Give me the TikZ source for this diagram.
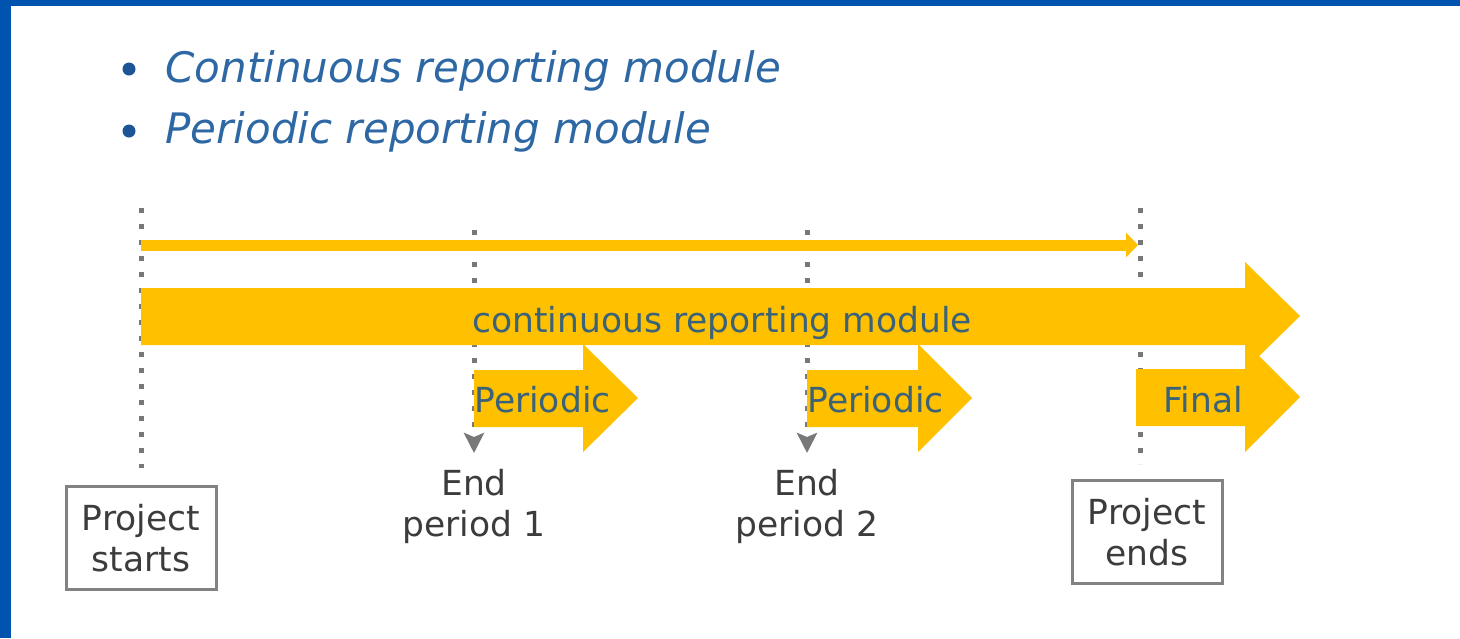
\documentclass[tikz,border=0pt]{standalone}
\usepackage{fontspec}
\setmainfont{DejaVu Sans}
\usetikzlibrary{arrows.meta}

\begin{document}
\begin{tikzpicture}[x=0.5pt,y=-0.5pt,
	big text/.style={font=\fontsize{17.25}{20.5}\selectfont},
	title text/.style={font=\fontsize{21}{25}\selectfont\itshape,text=titleblue,inner sep=0pt},
	label text/.style={big text,text=labelgray,align=center,inner sep=0pt},
	arrow text/.style={big text,text=arrowtext,inner sep=0pt},
	box node/.style={label text,draw=boxgray,line width=1.5pt,minimum width=75pt,minimum height=51.5pt},
	time line/.style={draw=dotgray,line width=2.5pt,dash pattern=on 2.5pt off 5.5pt},
	end tip/.style={-{Stealth[length=10pt,width=10pt,inset=2pt]}},
	thin arrow/.style={draw=arrowyellow,line width=5.5pt,-{Triangle[length=6pt,width=12pt]}},
	block/.style={fill=arrowyellow},
	bullet dot/.style={circle,fill=bulletblue,inner sep=0pt,minimum size=6.5pt}]
	
	\definecolor{frameblue}{RGB}{0,84,176}
	\definecolor{titleblue}{RGB}{46,104,164}
	\definecolor{bulletblue}{RGB}{28,84,150}
	\definecolor{arrowyellow}{RGB}{255,192,0}
	\definecolor{arrowtext}{RGB}{58,98,120}
	\definecolor{labelgray}{RGB}{60,60,60}
	\definecolor{dotgray}{RGB}{120,120,120}
	\definecolor{boxgray}{RGB}{130,130,130}
	
	\useasboundingbox (0,0) rectangle (1460,638);
	\fill[white] (0,0) rectangle (1460,638);
	\fill[frameblue] (0,0) rectangle (1460,6);
	\fill[frameblue] (0,0) rectangle (11,638);
	
	% the two modules
	\node[bullet dot] (b1) at (129,69) {};
	\node[bullet dot] (b2) at (129,131) {};
	\node[title text, anchor=base west] (m1) at (165,82) {Continuous reporting module};
	\node[title text, anchor=base west] (m2) at (165,143) {Periodic reporting module};
	
	% milestones
	\coordinate (t0) at (141,208);
	\coordinate (t1) at (474,230);
	\coordinate (t2) at (807,230);
	\coordinate (t3) at (1140,208);
	\node[box node] (pstart) at (141,538) {Project\\starts};
	\node[label text, anchor=north] (end1) at (474,469) {End\\period 1};
	\node[label text, anchor=north] (end2) at (807,469) {End\\period 2};
	\node[box node] (pend) at (1147,532) {Project\\ends};
	
	\draw[time line, shorten >=8.5pt] (t0) -- (t0 |- pstart.north);
	\draw[time line, end tip, shorten >=8pt] (t1) -- (end1);
	\draw[time line, end tip, shorten >=8pt] (t2) -- (end2);
	\draw[time line, shorten >=7.5pt] (t3) -- (t3 |- pend.north);
	
	% reporting arrows
	\coordinate (a0) at (141,245);
	\coordinate (a3) at (1138,245);
	\draw[thin arrow] (a0) -- (a3);
	
	\fill[block] (141,288) -- (1245,288) -- (1245,262) -- (1300,316) -- (1245,370) -- (1245,345) -- (141,345) -- cycle;
	\fill[block] (474,370) -- (583,370) -- (583,344) -- (638,398) -- (583,452) -- (583,427) -- (474,427) -- cycle;
	\fill[block] (807,370) -- (918,370) -- (918,344) -- (972,398) -- (918,452) -- (918,427) -- (807,427) -- cycle;
	\fill[block] (1136,369) -- (1245,369) -- (1245,342) -- (1300,397) -- (1245,452) -- (1245,426) -- (1136,426) -- cycle;
	
	\node[arrow text, anchor=base west] (cont) at (472,332) {continuous reporting module};
	\node[arrow text, anchor=base west] (per1) at (474,412) {Periodic};
	\node[arrow text, anchor=base west] (per2) at (807,412) {Periodic};
	\node[arrow text, anchor=base west] (fin) at (1163,412) {Final};
\end{tikzpicture}
\end{document}
